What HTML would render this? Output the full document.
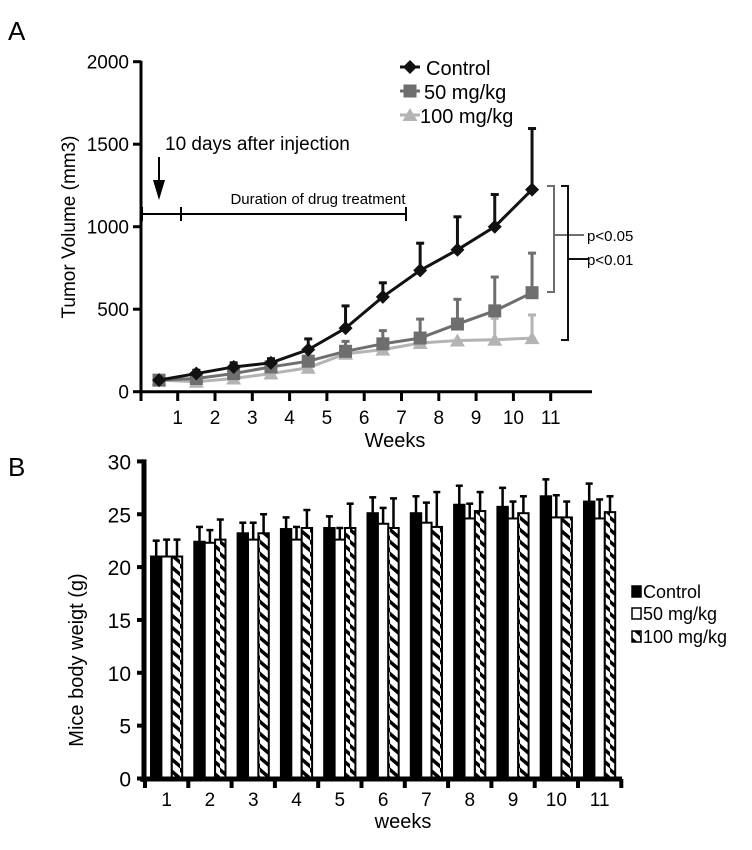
<!DOCTYPE html>
<html><head><meta charset="utf-8"><style>
html,body{margin:0;padding:0;background:#fff;}
svg{display:block;font-family:"Liberation Sans",Arial,sans-serif;}
</style></head><body>
<svg id="c" width="752" height="850" viewBox="0 0 752 850" xmlns="http://www.w3.org/2000/svg">
<defs>
<pattern id="hatch" patternUnits="userSpaceOnUse" width="10" height="12">
<rect width="10" height="12" fill="#fff"/>
<path d="M-2,0 L12,12" stroke="#000" stroke-width="3.5"/>
<path d="M-2,-12 L12,0 M-2,12 L12,24" stroke="#000" stroke-width="3.5"/>
</pattern>
</defs>
</svg>
<script>
// Panel A data
const weeksA = [0.5,1.5,2.5,3.5,4.5,5.5,6.5,7.5,8.5,9.5,10.5];
const ctrlA = [70,110,150,175,255,385,575,735,860,1000,1225];
const ctrlErr = [0,20,25,25,65,135,85,165,200,195,370];
const mid50A = [70,80,110,150,185,245,290,325,410,490,600];
const mid50Err = [0,0,15,20,30,60,80,115,150,205,240];
const hi100A = [70,60,80,110,145,230,255,295,310,315,325];
const hi100Err = [0,0,0,0,0,30,0,0,0,130,140];
const yTicksA = [0,500,1000,1500,2000];
const xTicksA = [1,2,3,4,5,6,7,8,9,10,11];
// Panel B data
const weeksB = ['1','2','3','4','5','6','7','8','9','10','11'];
const ctrlB = [21,22.4,23.2,23.6,23.7,25.1,25.1,25.9,25.7,26.7,26.2];
const ctrlBErr = [1.5,1.4,1.0,1.1,1.1,1.5,1.6,1.8,1.8,1.6,1.7];
const d50B = [21,22.3,22.6,22.6,22.6,24.1,24.2,24.6,24.6,24.7,24.6];
const d50BErr = [1.6,1.2,1.6,1.2,1.1,1.5,1.9,1.4,1.6,2.1,1.8];
const d100B = [21,22.6,23.2,23.7,23.7,23.7,23.8,25.3,25.1,24.7,25.2];
const d100BErr = [1.6,1.9,1.8,1.7,2.3,2.8,3.3,1.8,1.6,1.5,1.5];
const yTicksB = [0,5,10,15,20,25,30];

const svg = document.getElementById('c');
const NS = 'http://www.w3.org/2000/svg';
function el(tag, attrs, parent){const e=document.createElementNS(NS,tag);for(const k in attrs)e.setAttribute(k,attrs[k]);(parent||svg).appendChild(e);return e;}
function txt(s,x,y,size,anchor,fill,parent){const t=el('text',{x:x,y:y,'font-size':size,'text-anchor':anchor||'start',fill:fill||'#000'},parent);t.textContent=s;return t;}

// ---------- Panel A ----------
const xA = w => 140.4 + w*37.3;
const yA = v => 391.7 - v*0.165;
const gA = el('g',{});


const lblA = txt('A',8,40,26,'start','#000',gA);


el('line',{x1:141,y1:yA(2000)-1,x2:141,y2:393,stroke:'#000','stroke-width':3},gA);
el('line',{x1:139,y1:391.7,x2:592,y2:391.7,stroke:'#000','stroke-width':3},gA);
yTicksA.forEach(v=>{
  el('line',{x1:133,y1:yA(v),x2:141,y2:yA(v),stroke:'#000','stroke-width':3},gA);
  const t=txt(String(v),129,yA(v)+7,19,'end','#000',gA);
  
  
});
el('line',{x1:141,y1:391,x2:141,y2:401,stroke:'#000','stroke-width':3},gA);
xTicksA.forEach(w=>{
  el('line',{x1:xA(w),y1:391,x2:xA(w),y2:401,stroke:'#000','stroke-width':3},gA);
  const t=txt(String(w),xA(w),424,19,'middle','#000',gA);
  
  
});
const xtA=txt('Weeks',395,447,20,'middle','#000',gA);


const ytA=txt('Tumor Volume (mm3)',0,0,19,'middle','#000',gA);
ytA.setAttribute('transform','translate(75,227) rotate(-90)');



function series(vals, errs, color, marker, name){
  const g=el('g',{},gA);
  
  
  vals.forEach((v,i)=>{ if(errs[i]>0){
    const x=xA(weeksA[i]);
    el('line',{x1:x,y1:yA(v),x2:x,y2:yA(v+errs[i]),stroke:color,'stroke-width':3},g);
    el('line',{x1:x-4,y1:yA(v+errs[i]),x2:x+4,y2:yA(v+errs[i]),stroke:color,'stroke-width':3},g);
  }});
  el('polyline',{points:vals.map((v,i)=>xA(weeksA[i])+','+yA(v)).join(' '),fill:'none',stroke:color,'stroke-width':3},g);
  vals.forEach((v,i)=>{const x=xA(weeksA[i]),y=yA(v);drawMarker(marker,x,y,color,g);});
}
function drawMarker(m,x,y,color,g){
  if(m==='d') el('polygon',{points:`${x},${y-7} ${x+7},${y} ${x},${y+7} ${x-7},${y}`,fill:color},g);
  else if(m==='s') el('rect',{x:x-6.5,y:y-6.5,width:13,height:13,fill:color},g);
  else el('polygon',{points:`${x},${y-7} ${x+7.5},${y+6} ${x-7.5},${y+6}`,fill:color},g);
}
series(hi100A,hi100Err,'#b4b4b4','t','series-100mg');
series(mid50A,mid50Err,'#6e6e6e','s','series-50mg');
series(ctrlA,ctrlErr,'#111','d','series-control');

// legend A
[['Control','#111','d',67],['50 mg/kg','#6e6e6e','s',91],['100 mg/kg','#b4b4b4','t',115]].forEach(([n,c,m,y],i)=>{
  const g=el('g',{},gA);
  
  
  el('line',{x1:400,y1:y,x2:420,y2:y,stroke:c,'stroke-width':3},g);
  drawMarker(m,410,y,c,g);
  txt(n,i==2?420:i==1?424:426,y+8,20,'start','#000',g);
});
// annotations
const ann=el('g',{},gA);


txt('10 days after injection',165,150,19,'start','#000',ann);
el('line',{x1:159,y1:157,x2:159,y2:190,stroke:'#000','stroke-width':2},ann);
el('polygon',{points:'153,180 165,180 159,200',fill:'#000'},ann);
el('line',{x1:142,y1:214,x2:406,y2:214,stroke:'#000','stroke-width':2},ann);
[142,181,406].forEach(x=>el('line',{x1:x,y1:207,x2:x,y2:221,stroke:'#000','stroke-width':2},ann));
txt('Duration of drug treatment',318,204,15,'middle','#000',ann);
// significance brackets
const sig=el('g',{},gA);


el('polyline',{points:'547,186 554,186 554,292 547,292',fill:'none',stroke:'#6e6e6e','stroke-width':2},sig);
el('line',{x1:554,y1:235,x2:584,y2:235,stroke:'#6e6e6e','stroke-width':2},sig);
el('polyline',{points:'561,186 568,186 568,340 561,340',fill:'none',stroke:'#111','stroke-width':2},sig);
el('line',{x1:568,y1:259,x2:588,y2:259,stroke:'#111','stroke-width':2},sig);
txt('p<0.05',587,241,15,'start','#000',sig);
txt('p<0.01',587,265,15,'start','#000',sig);

// ---------- Panel B ----------
const y0B=778.5, yB = v => y0B - v*10.57;
const gStep=43.3, gx0=145;
const gB=el('g',{});


const lblB=txt('B',8,476,26,'start','#000',gB);


const series3=[[ctrlB,ctrlBErr,'#000','bar-control'],[d50B,d50BErr,'#fff','bar-50mg'],[d100B,d100BErr,'url(#hatch)','bar-100mg']];
weeksB.forEach((w,i)=>{
  const gx=gx0+i*gStep;
  series3.forEach(([vals,errs,fill,name],j)=>{
    const bx=gx+6+j*10.4, bw=10.4, v=vals[i], e=errs[i];
    const c=bx+bw/2;
    const er=el('line',{x1:c,y1:yB(v),x2:c,y2:yB(v+e),stroke:'#000','stroke-width':2.5},gB);
    el('line',{x1:c-3.5,y1:yB(v+e),x2:c+3.5,y2:yB(v+e),stroke:'#000','stroke-width':2.5},gB);
    const r=el('rect',{x:bx,y:yB(v),width:bw,height:y0B-yB(v),fill:fill,stroke:'#000','stroke-width':2},gB);
    
    
  });
  const t=txt(w,gx+gStep/2,806,19,'middle','#000',gB);
  
  
});
el('line',{x1:144,y1:yB(30)-2,x2:144,y2:782,stroke:'#000','stroke-width':5},gB);
el('line',{x1:140,y1:779,x2:622,y2:779,stroke:'#000','stroke-width':5},gB);
for(let i=0;i<=11;i++) el('line',{x1:gx0+i*gStep,y1:779,x2:gx0+i*gStep,y2:788,stroke:'#000','stroke-width':4},gB);
yTicksB.forEach(v=>{
  el('line',{x1:137,y1:yB(v),x2:144,y2:yB(v),stroke:'#000','stroke-width':4},gB);
  const t=txt(String(v),131,yB(v)+8,21,'end','#000',gB);
  
  
});
const xtB=txt('weeks',403,828,20,'middle','#000',gB);


const ytB=txt('Mice body weigt (g)',0,0,20,'middle','#000',gB);
ytB.setAttribute('transform','translate(83,660) rotate(-90)');


[['Control','#000',598],['50 mg/kg','#fff',620],['100 mg/kg','url(#hatch)',643]].forEach(([n,f,y])=>{
  const g=el('g',{},gB);
  
  
  el('rect',{x:632,y:y-12,width:9,height:11,fill:f,stroke:'#000','stroke-width':1.5},g);
  txt(n,643,y,18,'start','#000',g);
});
</script>
</body></html>
